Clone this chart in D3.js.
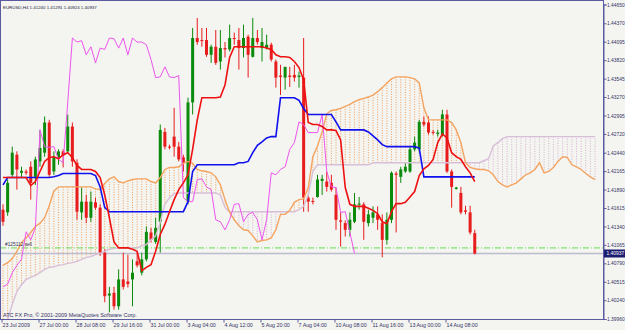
<!DOCTYPE html>
<html>
<head>
<meta charset="utf-8">
<script src="https://cdn.jsdelivr.net/npm/d3@7"></script>
<style>
body { margin: 0; background: #f4f4f0; }
svg { display: block; }
text { font-family: "Liberation Sans", Arial, sans-serif; }
</style>
</head>
<body>
<script>
const W = 625, H = 330
const PLOT_R = 603, PLOT_B = 319

// price axis labels
const priceTicks = [1.44650, 1.44370, 1.44095, 1.43820, 1.43545, 1.43270, 1.42995, 1.42720, 1.42440,
  1.42165, 1.41890, 1.41615, 1.41340, 1.41065, 1.40790, 1.40515, 1.40240, 1.39960]

// time axis labels and the bar each one sits on
const timeBars = [0, 8, 16, 24, 32, 40, 48, 56, 64, 72, 80, 88, 96]
const timeLabels = ["23 Jul 2009", "27 Jul 00:00", "28 Jul 08:00", "29 Jul 16:00", "31 Jul 00:00",
  "3 Aug 04:00", "4 Aug 12:00", "5 Aug 20:00", "7 Aug 04:00", "10 Aug 08:00", "11 Aug 16:00",
  "13 Aug 00:00", "14 Aug 08:00"]

// EURUSD H4 candles
const opens = [1.4159, 1.4155, 1.4211, 1.4241, 1.4214, 1.4216, 1.4223, 1.4208, 1.4231, 1.4244,
  1.4289, 1.4216, 1.4237, 1.4246, 1.4246, 1.4283, 1.4229, 1.4155, 1.4171, 1.4147,
  1.4170, 1.4162, 1.4095, 1.4031, 1.4035, 1.4015, 1.4055, 1.4052, 1.4055, 1.4082,
  1.4065, 1.4085, 1.4125, 1.4111, 1.4141, 1.4275, 1.4253, 1.4268, 1.4253, 1.4237,
  1.4171, 1.4319, 1.4415, 1.4412, 1.4412, 1.4390, 1.4402, 1.4380, 1.4400, 1.4398,
  1.4415, 1.4412, 1.4400, 1.4417, 1.4387, 1.4415, 1.4400, 1.4400, 1.4405, 1.4380,
  1.4359, 1.4356, 1.4359, 1.4360, 1.4357, 1.4356, 1.4177, 1.4172, 1.4178, 1.4202,
  1.4201, 1.4199, 1.4181, 1.4143, 1.4139, 1.4129, 1.4141, 1.4167, 1.4167, 1.4139,
  1.4147, 1.4152, 1.4139, 1.4114, 1.4144, 1.4213, 1.4208, 1.4216, 1.4216, 1.4249,
  1.4249, 1.4290, 1.4289, 1.4275, 1.4272, 1.4271, 1.4301, 1.4216, 1.4190, 1.4184,
  1.4158, 1.4155, 1.41240]
const highs = [1.4167, 1.4204, 1.4253, 1.4246, 1.4223, 1.4219, 1.4231, 1.4238, 1.4278, 1.4298,
  1.4293, 1.4246, 1.4249, 1.4249, 1.4301, 1.4289, 1.4234, 1.4192, 1.4181, 1.4186,
  1.4177, 1.4167, 1.4100, 1.4044, 1.4044, 1.4070, 1.4095, 1.4092, 1.4085, 1.4095,
  1.4095, 1.4134, 1.4132, 1.4147, 1.4286, 1.4281, 1.4256, 1.4311, 1.4260, 1.4241,
  1.4326, 1.4430, 1.4445, 1.4430, 1.4430, 1.4405, 1.4427, 1.4427, 1.4409, 1.4435,
  1.4423, 1.4430, 1.4435, 1.4420, 1.4445, 1.4427, 1.4430, 1.4420, 1.4408, 1.4383,
  1.4375, 1.4372, 1.4372, 1.4375, 1.4365, 1.4415, 1.4181, 1.4177, 1.4211, 1.4211,
  1.4216, 1.4211, 1.4192, 1.4155, 1.4143, 1.4155, 1.4184, 1.4178, 1.4170, 1.4159,
  1.4164, 1.4164, 1.4152, 1.4155, 1.4216, 1.4216, 1.4223, 1.4229, 1.4253, 1.4268,
  1.4293, 1.4298, 1.4298, 1.4278, 1.4278, 1.4308, 1.4308, 1.4219, 1.4193, 1.4193,
  1.4165, 1.4165, 1.41291]
const lows = [1.4135, 1.4150, 1.4208, 1.4189, 1.4208, 1.4211, 1.4174, 1.4196, 1.4223, 1.4238,
  1.4208, 1.4211, 1.4226, 1.4222, 1.4244, 1.4223, 1.4144, 1.4144, 1.4139, 1.4141,
  1.4159, 1.4090, 1.4021, 1.4006, 1.4010, 1.4010, 1.4040, 1.4043, 1.4015, 1.4073,
  1.4061, 1.4082, 1.4110, 1.4108, 1.4095, 1.4249, 1.4249, 1.4238, 1.4231, 1.4216,
  1.4167, 1.4301, 1.4405, 1.4402, 1.4387, 1.4378, 1.4375, 1.4368, 1.4386, 1.4395,
  1.4405, 1.4368, 1.4386, 1.4356, 1.4386, 1.4405, 1.4380, 1.4398, 1.4380, 1.4341,
  1.4330, 1.4338, 1.4342, 1.4350, 1.4341, 1.4156, 1.4156, 1.4167, 1.4177, 1.4181,
  1.4186, 1.4186, 1.4129, 1.4104, 1.4119, 1.4119, 1.4139, 1.4159, 1.4114, 1.4134,
  1.4139, 1.4129, 1.4088, 1.4107, 1.4139, 1.4125, 1.4199, 1.4214, 1.4214, 1.4246,
  1.4244, 1.4283, 1.4271, 1.4271, 1.4268, 1.4268, 1.4214, 1.4162, 1.4189, 1.4152,
  1.4152, 1.4122, 1.40924]
const closes = [1.4141, 1.4199, 1.4244, 1.4219, 1.4217, 1.4214, 1.4199, 1.4234, 1.4251, 1.4289,
  1.4211, 1.4238, 1.4246, 1.4240, 1.4283, 1.4231, 1.4156, 1.4171, 1.4147, 1.4171,
  1.4162, 1.4095, 1.4030, 1.4034, 1.4015, 1.4055, 1.4044, 1.4048, 1.4065, 1.4076,
  1.4085, 1.4126, 1.4114, 1.4132, 1.4278, 1.4253, 1.4252, 1.4253, 1.4234, 1.4229,
  1.4319, 1.4415, 1.4409, 1.4411, 1.4390, 1.4402, 1.4378, 1.4400, 1.4398, 1.4415,
  1.4414, 1.4400, 1.4415, 1.4390, 1.4415, 1.4409, 1.4409, 1.4405, 1.4383, 1.4356,
  1.4357, 1.4372, 1.4357, 1.4356, 1.4359, 1.4177, 1.4171, 1.4171, 1.4204, 1.4205,
  1.4193, 1.4189, 1.4144, 1.4141, 1.4129, 1.4144, 1.4167, 1.4168, 1.4141, 1.4152,
  1.4155, 1.4144, 1.4114, 1.4144, 1.4214, 1.4211, 1.4219, 1.4223, 1.4249, 1.4259,
  1.4290, 1.4286, 1.4274, 1.4274, 1.4274, 1.4301, 1.4216, 1.4193, 1.4192, 1.4155,
  1.4156, 1.4125, 1.40937]

// Ichimoku lines, one value per bar
const tenkan = [1.4207, 1.4207, 1.4207, 1.4207, 1.4207, 1.4207, 1.4195, 1.4201, 1.4216, 1.4231,
  1.4237, 1.4238, 1.4235, 1.4241, 1.4244, 1.4237, 1.4225, 1.4219, 1.4219, 1.4219,
  1.4216, 1.4207, 1.4181, 1.4147, 1.4111, 1.4102, 1.4102, 1.4102, 1.4100, 1.4097,
  1.4068, 1.4073, 1.4077, 1.4097, 1.4122, 1.4137, 1.4156, 1.4174, 1.4189, 1.4199,
  1.4211, 1.4249, 1.4293, 1.4326, 1.4326, 1.4326, 1.4326, 1.4327, 1.4345, 1.4386,
  1.4402, 1.4402, 1.4402, 1.4402, 1.4402, 1.4402, 1.4402, 1.4400, 1.4398, 1.4390,
  1.4387, 1.4387, 1.4386, 1.4380, 1.4371, 1.4353, 1.4289, 1.4286, 1.4286, 1.4283,
  1.4278, 1.4278, 1.4277, 1.4263, 1.4192, 1.4167, 1.4164, 1.4164, 1.4164, 1.4161,
  1.4158, 1.4153, 1.4141, 1.4138, 1.4156, 1.4168, 1.4168, 1.4170, 1.4178, 1.4186,
  1.4210, 1.4220, 1.4225, 1.4234, 1.4259, 1.4272, 1.4266, 1.4244, 1.4238, 1.4234,
  1.4223, 1.4214, 1.4201]
const kijun = [1.4196, 1.4207, 1.4207, 1.4207, 1.4207, 1.4207, 1.4207, 1.4207, 1.4207, 1.4207,
  1.4207, 1.4208, 1.4210, 1.4213, 1.4213, 1.4213, 1.4213, 1.4213, 1.4213, 1.4213,
  1.4210, 1.4193, 1.4162, 1.4156, 1.4156, 1.4156, 1.4156, 1.4156, 1.4156, 1.4156,
  1.4156, 1.4156, 1.4156, 1.4156, 1.4156, 1.4156, 1.4156, 1.4156, 1.4156, 1.4156,
  1.4171, 1.4216, 1.4226, 1.4226, 1.4226, 1.4226, 1.4226, 1.4226, 1.4226, 1.4226,
  1.4226, 1.4229, 1.4229, 1.4231, 1.4244, 1.4255, 1.4260, 1.4266, 1.4268, 1.4268,
  1.4326, 1.4326, 1.4326, 1.4326, 1.4322, 1.4310, 1.4301, 1.4301, 1.4301, 1.4301,
  1.4301, 1.4301, 1.4290, 1.4278, 1.4278, 1.4278, 1.4278, 1.4278, 1.4278, 1.4275,
  1.4269, 1.4263, 1.4256, 1.4253, 1.4253, 1.4253, 1.4253, 1.4253, 1.4253, 1.4253,
  1.4251, 1.4208, 1.4208, 1.4208, 1.4208, 1.4208, 1.4208, 1.4208, 1.4208, 1.4208,
  1.4208, 1.4208, 1.4208]
const chikou = [1.4044, 1.4048, 1.4065, 1.4076, 1.4085, 1.4126, 1.4114, 1.4132, 1.4278, 1.4253,
  1.4252, 1.4253, 1.4234, 1.4229, 1.4319, 1.4415, 1.4409, 1.4411, 1.4390, 1.4402,
  1.4378, 1.4400, 1.4398, 1.4415, 1.4414, 1.4400, 1.4415, 1.4390, 1.4415, 1.4409,
  1.4409, 1.4405, 1.4383, 1.4356, 1.4357, 1.4372, 1.4357, 1.4356, 1.4359, 1.4177,
  1.4171, 1.4171, 1.4204, 1.4205, 1.4193, 1.4189, 1.4144, 1.4141, 1.4129, 1.4144,
  1.4167, 1.4168, 1.4141, 1.4152, 1.4155, 1.4144, 1.4114, 1.4144, 1.4214, 1.4211,
  1.4219, 1.4223, 1.4249, 1.4259, 1.4290, 1.4286, 1.4274, 1.4274, 1.4274, 1.4301,
  1.4216, 1.4193, 1.4192, 1.4155, 1.4156, 1.4125, 1.40937]
const spanA = [1.4076, 1.4080, 1.4086, 1.4097, 1.4110, 1.4117, 1.4125, 1.4134, 1.4139, 1.4147,
  1.4165, 1.4187, 1.4193, 1.4193, 1.4193, 1.4193, 1.4193, 1.4193, 1.4193, 1.4193,
  1.4190, 1.4189, 1.4198, 1.4205, 1.4208, 1.4201, 1.4199, 1.4202, 1.4204, 1.4205,
  1.4205, 1.4205, 1.4201, 1.4199, 1.4207, 1.4219, 1.4222, 1.4222, 1.4223, 1.4228,
  1.4231, 1.4228, 1.4219, 1.4217, 1.4216, 1.4214, 1.4208, 1.4196, 1.4174, 1.4155,
  1.4144, 1.4135, 1.4129, 1.4128, 1.4120, 1.4111, 1.4113, 1.4114, 1.4117, 1.4129,
  1.4152, 1.4152, 1.4158, 1.4170, 1.4174, 1.4175, 1.4192, 1.4238, 1.4254, 1.4275,
  1.4302, 1.4307, 1.4308, 1.4310, 1.4313, 1.4316, 1.4320, 1.4323, 1.4325, 1.4327,
  1.4330, 1.4335, 1.4341, 1.4348, 1.4354, 1.4357, 1.4357, 1.4357, 1.4356, 1.4354,
  1.4348, 1.4311, 1.4293, 1.4293, 1.4293, 1.4293, 1.4293, 1.4289, 1.4278, 1.4259,
  1.4229, 1.4222, 1.4220, 1.4219, 1.4219, 1.4217, 1.4211, 1.4201, 1.4196, 1.4193,
  1.4196, 1.4199, 1.4205, 1.4211, 1.4214, 1.4219, 1.4229, 1.4214, 1.4216, 1.4222,
  1.4231, 1.4238, 1.4237, 1.4226, 1.4223, 1.4219, 1.4213, 1.4208, 1.4204]
const spanB = [1.3980, 1.3995, 1.4018, 1.4037, 1.4047, 1.4055, 1.4058, 1.4061, 1.4065, 1.4070,
  1.4073, 1.4074, 1.4076, 1.4077, 1.4079, 1.4080, 1.4082, 1.4085, 1.4088, 1.4089,
  1.4092, 1.4094, 1.4097, 1.4100, 1.4101, 1.4102, 1.4102, 1.4102, 1.4102, 1.4102,
  1.4105, 1.4107, 1.4114, 1.4120, 1.4141, 1.4167, 1.4177, 1.4183, 1.4184, 1.4184,
  1.4184, 1.4184, 1.4184, 1.4184, 1.4184, 1.4184, 1.4184, 1.4181, 1.4162, 1.4156,
  1.4156, 1.4156, 1.4156, 1.4156, 1.4156, 1.4156, 1.4156, 1.4156, 1.4156, 1.4156,
  1.4156, 1.4156, 1.4156, 1.4156, 1.4159, 1.4164, 1.4181, 1.4216, 1.4226, 1.4226,
  1.4226, 1.4226, 1.4226, 1.4226, 1.4226, 1.4226, 1.4226, 1.4226, 1.4226, 1.4226,
  1.4229, 1.4229, 1.4229, 1.4229, 1.4229, 1.4229, 1.4229, 1.4229, 1.4229, 1.4229,
  1.4229, 1.4229, 1.4229, 1.4229, 1.4229, 1.4229, 1.4229, 1.4229, 1.4229, 1.4229,
  1.4229, 1.4229, 1.4229, 1.4229, 1.4232, 1.4235, 1.4254, 1.4259, 1.4265, 1.4268,
  1.4268, 1.4268, 1.4268, 1.4268, 1.4268, 1.4268, 1.4268, 1.4268, 1.4268, 1.4268,
  1.4268, 1.4268, 1.4268, 1.4268, 1.4268, 1.4268, 1.4268, 1.4268, 1.4268]

const bidPrice = 1.40937
const orderPrice = 1.4102

const svg = d3.select("body").append("svg")
  .attr("width", W)
  .attr("height", H)

svg.append("rect").attr("width", W).attr("height", H).attr("fill", "#f4f4f0")

const x = d3.scaleLinear().domain([0, 128]).range([3, 595])
const y = d3.scaleLinear().domain([1.39960, 1.44650]).range([319, 4.5])

svg.append("clipPath").attr("id", "plot")
  .append("rect").attr("x", 0).attr("y", 0).attr("width", PLOT_R).attr("height", PLOT_B)

const plot = svg.append("g").attr("clip-path", "url(#plot)")

// kumo hatching: a dotted stick per bar between the two spans
plot.append("g").selectAll("line")
  .data(spanA)
  .join("line")
  .attr("x1", (d, i) => x(i)).attr("x2", (d, i) => x(i))
  .attr("y1", d => y(d))
  .attr("y2", (d, i) => y(spanB[i]))
  .attr("stroke", (d, i) => d >= spanB[i] ? "#f0a060" : "#d4b0d4")
  .attr("stroke-width", 1)
  .attr("stroke-dasharray", "1,1.5")

// bid line and order line
plot.append("line")
  .attr("x1", 0).attr("x2", PLOT_R)
  .attr("y1", y(bidPrice)).attr("y2", y(bidPrice))
  .attr("stroke", "#bcbcd0").attr("stroke-width", 1.5)
plot.append("line")
  .attr("x1", 0).attr("x2", PLOT_R)
  .attr("y1", y(orderPrice)).attr("y2", y(orderPrice))
  .attr("stroke", "#66dd55").attr("stroke-width", 1)
  .attr("stroke-dasharray", "6,2,1,2")

// candles
const candles = plot.append("g").selectAll("g")
  .data(d3.range(opens.length))
  .join("g")
  .attr("fill", i => closes[i] >= opens[i] ? "#0b8a0b" : "#e81c1c")
  .attr("stroke", i => closes[i] >= opens[i] ? "#0b8a0b" : "#e81c1c")

candles.append("line")
  .attr("x1", i => x(i)).attr("x2", i => x(i))
  .attr("y1", i => y(highs[i])).attr("y2", i => y(lows[i]))
  .attr("stroke-width", 1)

candles.append("rect")
  .attr("stroke", "none")
  .attr("x", i => x(i) - 1.5)
  .attr("width", 3)
  .attr("y", i => y(Math.max(opens[i], closes[i])))
  .attr("height", i => Math.max(1, Math.abs(y(opens[i]) - y(closes[i]))))

// indicator lines
const line = d3.line().x((d, i) => x(i)).y(d => y(d))

plot.append("path").datum(spanB).attr("d", line)
  .attr("fill", "none").attr("stroke", "#d8bfd8").attr("stroke-width", 1.4)
plot.append("path").datum(spanA).attr("d", line)
  .attr("fill", "none").attr("stroke", "#f4a460").attr("stroke-width", 1.4)
plot.append("path").datum(chikou).attr("d", line)
  .attr("fill", "none").attr("stroke", "#ee55ee").attr("stroke-width", 1)
plot.append("path").datum(kijun).attr("d", line)
  .attr("fill", "none").attr("stroke", "#1010ee").attr("stroke-width", 1.6)
plot.append("path").datum(tenkan).attr("d", line)
  .attr("fill", "none").attr("stroke", "#ee1111").attr("stroke-width", 1.6)

// frame
svg.append("rect")
  .attr("x", 0.5).attr("y", 0.5)
  .attr("width", PLOT_R).attr("height", PLOT_B)
  .attr("fill", "none").attr("stroke", "#5a5aa0").attr("stroke-width", 1)

// price axis
const yAxis = svg.append("g")
  .attr("transform", `translate(${PLOT_R + 0.5},0)`)
  .call(d3.axisRight(y).tickValues(priceTicks).tickSize(3).tickPadding(0.5).tickFormat(d3.format(".5f")))
yAxis.select(".domain").attr("stroke", "#5a5aa0")
yAxis.selectAll(".tick line").attr("stroke", "#5a5aa0")
yAxis.selectAll("text").attr("font-size", 4.9).attr("fill", "#333366")
  .attr("font-family", "Liberation Sans, Arial, sans-serif")

// time axis, labels sit to the right of the tick
const xt = d3.scaleLinear().domain(x.domain()).range(x.range().map(v => v - 1.5))
const xAxis = svg.append("g")
  .attr("transform", `translate(0,${PLOT_B + 0.5})`)
  .call(d3.axisBottom(xt).tickValues(timeBars).tickSize(3).tickPadding(1)
    .tickFormat((d, i) => timeLabels[i]))
xAxis.select(".domain").remove()
xAxis.selectAll(".tick line").attr("stroke", "#5a5aa0")
xAxis.selectAll("text").attr("font-size", 5.3).attr("fill", "#333366")
  .attr("text-anchor", "start").attr("dx", 0.5)
  .attr("font-family", "Liberation Sans, Arial, sans-serif")

// bid price tag
svg.append("rect")
  .attr("x", PLOT_R + 1).attr("y", y(bidPrice) - 4)
  .attr("width", W - PLOT_R - 1).attr("height", 8)
  .attr("fill", "#1c1c70")
svg.append("text")
  .attr("x", PLOT_R + 3.5).attr("y", y(bidPrice) + 1.8)
  .attr("font-size", 4.9).attr("fill", "#ffffff")
  .text(d3.format(".5f")(bidPrice))

// texts
svg.append("text").attr("x", 3).attr("y", 8.5)
  .attr("font-size", 4.4).attr("fill", "#222244")
  .text("EURUSD,H4  1.41240 1.41291 1.40924 1.40937")
svg.append("text").attr("x", 5).attr("y", y(orderPrice) - 1.5)
  .attr("font-size", 4.8).attr("fill", "#333355")
  .text("#125112 sell")
svg.append("text").attr("x", 3).attr("y", 316.5)
  .attr("font-size", 5.5).attr("fill", "#333366")
  .text("ATC FX Pro, \u00a9 2001-2009 MetaQuotes Software Corp.")
</script>
</body>
</html>
